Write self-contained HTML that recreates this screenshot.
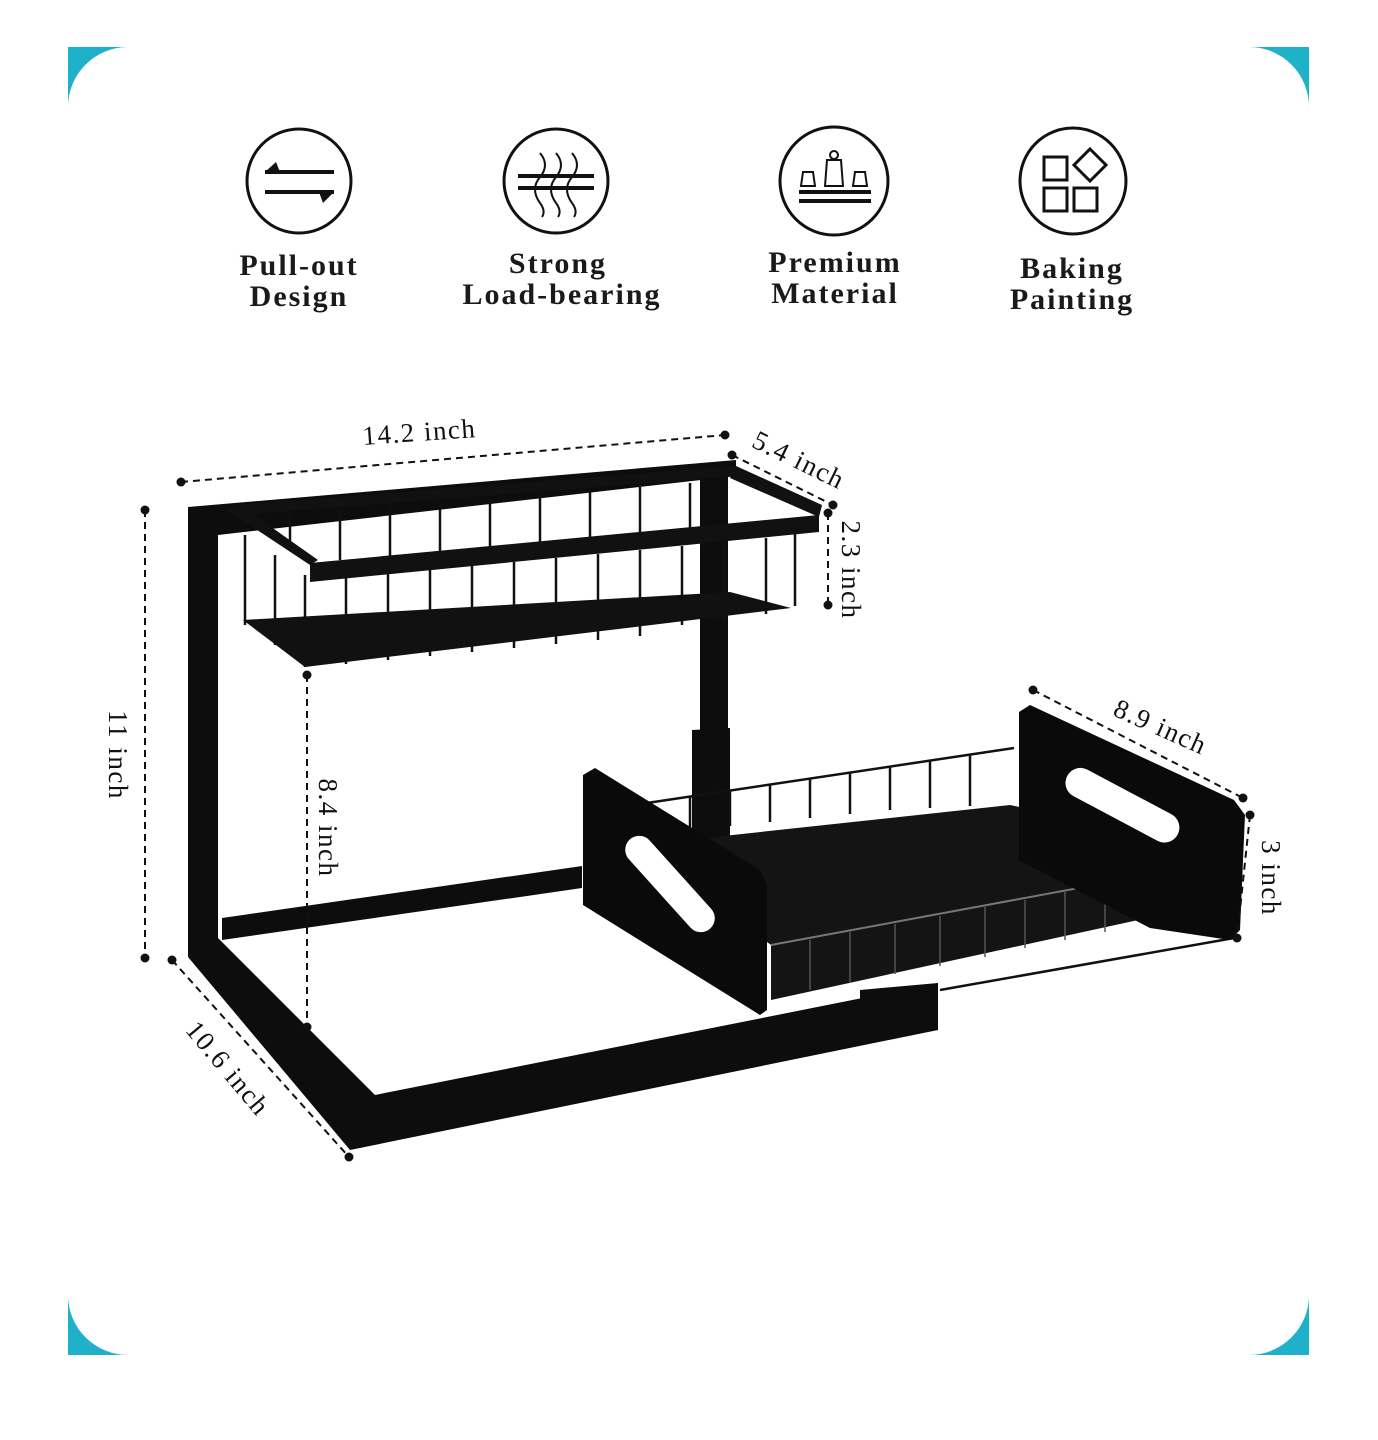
<!DOCTYPE html>
<html><head><meta charset="utf-8"><style>
html,body{margin:0;padding:0;background:#fff;}
svg{display:block;}
.lbl{font-family:"Liberation Serif",serif;font-weight:bold;font-size:30px;letter-spacing:2px;fill:#1a1a1a;text-anchor:middle;}
.dim{font-family:"Liberation Serif",serif;font-size:27px;letter-spacing:1.5px;fill:#111;}
.dash{stroke:#111;stroke-width:2;stroke-dasharray:7 5;fill:none;}
.bar{stroke:#111;stroke-width:2.5;}
</style></head><body>
<svg width="1378" height="1440" viewBox="0 0 1378 1440" xmlns="http://www.w3.org/2000/svg">
<rect x="68" y="47" width="1241" height="1308" fill="#1fb1c9"/>
<rect x="68" y="47" width="1241" height="1308" rx="60" ry="60" fill="#fff"/>

<g fill="none" stroke="#111" stroke-width="3">
<circle cx="299" cy="181" r="52"/>
<circle cx="556" cy="181" r="52"/>
<circle cx="834" cy="181" r="54"/>
<circle cx="1073" cy="181" r="53"/>
</g>
<g stroke="#111" stroke-width="4">
<line x1="265" y1="172" x2="334" y2="172"/>
<line x1="265" y1="192" x2="334" y2="192"/>
<line x1="518" y1="176" x2="594" y2="176"/>
<line x1="518" y1="188" x2="594" y2="188"/>
<line x1="799" y1="192" x2="871" y2="192"/>
<line x1="799" y1="201" x2="871" y2="201"/>
</g>
<polygon points="265,172 276,162 280,172" fill="#111"/>
<polygon points="334,192 323,203 319,192" fill="#111"/>
<g fill="none" stroke="#111" stroke-width="2">
<path d="M540 153 q10 12 0 24 q-10 12 0 26 q6 8 2 14"/>
<path d="M556 153 q10 12 0 24 q-10 12 0 26 q6 8 2 14"/>
<path d="M572 153 q10 12 0 24 q-10 12 0 26 q6 8 2 14"/>
<path d="M825 186 l2 -26 h14 l2 26 z"/>
<circle cx="834" cy="155" r="4"/>
<path d="M801 186 l2 -14 h10 l2 14 z"/>
<path d="M853 186 l2 -14 h10 l2 14 z"/>
</g>
<g fill="none" stroke="#111" stroke-width="3">
<rect x="1044" y="157" width="23" height="23"/>
<rect x="1044" y="188" width="23" height="23"/>
<rect x="1074" y="188" width="23" height="23"/>
<polygon points="1090,149 1106,165 1090,181 1074,165"/>
</g>
<text class="lbl" x="299" y="275">Pull-out</text>
<text class="lbl" x="299" y="306">Design</text>
<text class="lbl" x="558" y="273">Strong</text>
<text class="lbl" x="562" y="304">Load-bearing</text>
<text class="lbl" x="835" y="272">Premium</text>
<text class="lbl" x="835" y="303">Material</text>
<text class="lbl" x="1072" y="278">Baking</text>
<text class="lbl" x="1072" y="309">Painting</text>

<g fill="#0d0d0d">
<polygon points="700,470 728,466 728,875 700,880"/>
<polygon points="692,730 730,728 730,872 692,876"/>
<polygon points="222,918 582,866 582,888 222,940"/>
<polygon points="188,507 736,460 736,476 218,535 218,940 188,957"/>
<polygon points="188,957 218,938 375,1095 938,983 938,1030 350,1150"/>
</g>

<g fill="#111">
<polygon points="243,620 730,592 791,608 305,667"/>
<polygon points="233,505 736,466 740,476 240,515"/>
<polygon points="227,510 240,505 318,560 310,565"/>
<polygon points="310,563 819,515 819,532 310,582"/>
<polygon points="736,466 822,505 819,517 730,478"/>
</g>
<g class="bar">
<line x1="245" y1="535" x2="245" y2="625"/>
<line x1="275" y1="555" x2="275" y2="645"/>
<line x1="305" y1="575" x2="305" y2="667"/>
<line x1="346" y1="578" x2="346" y2="664"/>
<line x1="388" y1="574" x2="388" y2="660"/>
<line x1="430" y1="570" x2="430" y2="656"/>
<line x1="472" y1="566" x2="472" y2="652"/>
<line x1="514" y1="562" x2="514" y2="648"/>
<line x1="556" y1="558" x2="556" y2="644"/>
<line x1="598" y1="554" x2="598" y2="640"/>
<line x1="640" y1="550" x2="640" y2="636"/>
<line x1="682" y1="546" x2="682" y2="625"/>
<line x1="724" y1="542" x2="724" y2="620"/>
<line x1="766" y1="538" x2="766" y2="614"/>
<line x1="795" y1="528" x2="795" y2="606"/>
<line x1="290" y1="515" x2="290" y2="545"/>
<line x1="340" y1="511" x2="340" y2="560"/>
<line x1="390" y1="507" x2="390" y2="556"/>
<line x1="440" y1="503" x2="440" y2="552"/>
<line x1="490" y1="499" x2="490" y2="548"/>
<line x1="540" y1="495" x2="540" y2="544"/>
<line x1="590" y1="491" x2="590" y2="540"/>
<line x1="640" y1="487" x2="640" y2="536"/>
<line x1="690" y1="483" x2="690" y2="532"/>
</g>

<g class="bar">
<line x1="647" y1="803" x2="1014" y2="748"/>
<line x1="690" y1="797" x2="690" y2="830"/>
<line x1="730" y1="791" x2="730" y2="826"/>
<line x1="770" y1="785" x2="770" y2="822"/>
<line x1="810" y1="779" x2="810" y2="818"/>
<line x1="850" y1="773" x2="850" y2="814"/>
<line x1="890" y1="767" x2="890" y2="810"/>
<line x1="930" y1="761" x2="930" y2="808"/>
<line x1="970" y1="755" x2="970" y2="806"/>
<line x1="940" y1="990" x2="1234" y2="938"/>
</g>
<polygon fill="#141414" points="640,845 1010,805 1230,852 1230,862 1184,910 771,1000 771,945"/>
<line x1="771" y1="945" x2="1230" y2="860" stroke="#777" stroke-width="2"/>
<g stroke="#555" stroke-width="1.5">
<line x1="810" y1="940" x2="810" y2="990"/>
<line x1="850" y1="932" x2="850" y2="982"/>
<line x1="895" y1="924" x2="895" y2="974"/>
<line x1="940" y1="916" x2="940" y2="966"/>
<line x1="985" y1="907" x2="985" y2="957"/>
<line x1="1025" y1="900" x2="1025" y2="948"/>
<line x1="1065" y1="892" x2="1065" y2="940"/>
<line x1="1105" y1="885" x2="1105" y2="932"/>
<line x1="1145" y1="877" x2="1145" y2="925"/>
<line x1="1185" y1="870" x2="1185" y2="910"/>
</g>
<polygon fill="#0a0a0a" points="1019,712 1030,705 1234,800 1245,815 1240,930 1230,940 1150,928 1019,860"/>
<rect x="1060" y="790" width="125" height="30" rx="15" fill="#fff" transform="rotate(28 1122 805)"/>
<polygon fill="#0a0a0a" points="583,775 595,768 760,870 767,885 767,1010 760,1015 583,905"/>
<rect x="610" y="870" width="120" height="28" rx="14" fill="#fff" transform="rotate(48 670 884)"/>
<polygon fill="#0d0d0d" points="860,990 938,983 938,1030 860,1040"/>

<g class="dash">
<line x1="181" y1="482" x2="725" y2="435"/>
<line x1="732" y1="455" x2="833" y2="505"/>
<line x1="828" y1="513" x2="828" y2="605"/>
<line x1="145" y1="510" x2="145" y2="958"/>
<line x1="307" y1="675" x2="307" y2="1027"/>
<line x1="172" y1="960" x2="349" y2="1157"/>
<line x1="1033" y1="690" x2="1243" y2="798"/>
<line x1="1250" y1="815" x2="1237" y2="938"/>
</g>
<g fill="#111">
<circle cx="181" cy="482" r="4.5"/><circle cx="725" cy="435" r="4.5"/>
<circle cx="732" cy="455" r="4.5"/><circle cx="833" cy="505" r="4.5"/>
<circle cx="828" cy="513" r="4.5"/><circle cx="828" cy="605" r="4.5"/>
<circle cx="145" cy="510" r="4.5"/><circle cx="145" cy="958" r="4.5"/>
<circle cx="307" cy="675" r="4.5"/><circle cx="307" cy="1027" r="4.5"/>
<circle cx="172" cy="960" r="4.5"/><circle cx="349" cy="1157" r="4.5"/>
<circle cx="1033" cy="690" r="4.5"/><circle cx="1243" cy="798" r="4.5"/>
<circle cx="1250" cy="815" r="4.5"/><circle cx="1237" cy="938" r="4.5"/>
</g>
<text class="dim" transform="translate(420 441) rotate(-4)" text-anchor="middle">14.2 inch</text>
<text class="dim" transform="translate(795 468) rotate(26)" text-anchor="middle">5.4 inch</text>
<text class="dim" transform="translate(842 570) rotate(90)" text-anchor="middle">2.3 inch</text>
<text class="dim" transform="translate(109 755) rotate(90)" text-anchor="middle">11 inch</text>
<text class="dim" transform="translate(319 828) rotate(90)" text-anchor="middle">8.4 inch</text>
<text class="dim" transform="translate(221 1074) rotate(50)" text-anchor="middle">10.6 inch</text>
<text class="dim" transform="translate(1157 735) rotate(24)" text-anchor="middle">8.9 inch</text>
<text class="dim" transform="translate(1262 878) rotate(90)" text-anchor="middle">3 inch</text>
</svg>
</body></html>
